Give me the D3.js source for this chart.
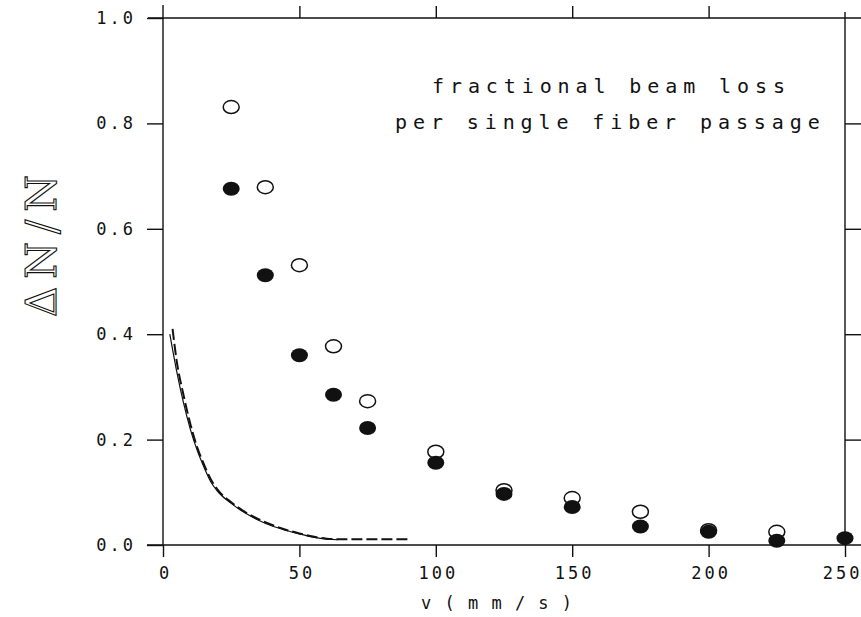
<!DOCTYPE html>
<html>
<head>
<meta charset="utf-8">
<script src="https://cdn.jsdelivr.net/npm/d3@7"></script>
<style>
  body { margin: 0; background: #fff; }
  text { font-family: "DejaVu Sans Mono", monospace; fill: #111; }
</style>
</head>
<body>
<div id="chart"></div>
<script>
// measured points (v in mm/s, fractional loss)
const vPoints = [25, 37.5, 50, 62.5, 75, 100, 125, 150, 175, 200, 225, 250];
const openLoss = [0.831, 0.679, 0.531, 0.377, 0.273, 0.177, 0.104, 0.089, 0.063, 0.028, 0.025, null];
const filledLoss = [0.676, 0.512, 0.360, 0.285, 0.222, 0.156, 0.097, 0.072, 0.035, 0.025, 0.008, 0.013];

// calculated curves
const solidV = [2.5, 5, 7.5, 10, 12.5, 15, 17.5, 20, 25, 30, 35, 40, 45, 50, 55, 60, 64];
const solidLoss = [0.40, 0.33, 0.27, 0.22, 0.18, 0.148, 0.12, 0.102, 0.079, 0.061, 0.047, 0.036, 0.028, 0.021, 0.015, 0.011, 0.010];
const dashV = [3.5, 5, 7.5, 10, 12.5, 15, 17.5, 20, 25, 30, 35, 40, 45, 50, 55, 60, 65, 70, 80, 90];
const dashLoss = [0.41, 0.35, 0.285, 0.23, 0.186, 0.153, 0.125, 0.105, 0.081, 0.063, 0.049, 0.038, 0.029, 0.022, 0.016, 0.012, 0.011, 0.011, 0.011, 0.011];

const xTicks = [0, 50, 100, 150, 200, 250];
const yTicks = [0, 0.2, 0.4, 0.6, 0.8, 1.0];

const W = 861, H = 617;
const svg = d3.select("#chart").append("svg")
  .attr("width", W).attr("height", H);

const x = d3.scaleLinear().domain([0, 250]).range([163, 845]);
const y = d3.scaleLinear().domain([0, 1]).range([545, 18]);

const ink = "#111";

// frame lines (extend past the corners like the plotter drawing)
const frame = svg.append("g").attr("stroke", ink).attr("stroke-width", 1.4);
frame.append("line").attr("x1", x(0) - 16).attr("x2", W).attr("y1", y(0)).attr("y2", y(0));
frame.append("line").attr("x1", x(0) - 15).attr("x2", W).attr("y1", y(1)).attr("y2", y(1));
frame.append("line").attr("x1", x(0)).attr("x2", x(0)).attr("y1", y(1) - 13).attr("y2", y(0));
frame.append("line").attr("x1", x(250)).attr("x2", x(250)).attr("y1", y(1) - 6).attr("y2", y(0));

// axes
const fmtY = d => d3.format(".1f")(d);
const left = svg.append("g")
  .attr("transform", `translate(${x(0)},0)`)
  .call(d3.axisLeft(y).tickValues(yTicks).tickSize(16).tickPadding(14).tickFormat(fmtY));
const bottom = svg.append("g")
  .attr("transform", `translate(0,${y(0)})`)
  .call(d3.axisBottom(x).tickValues(xTicks).tickSize(12).tickPadding(10));
svg.append("g")
  .attr("transform", `translate(0,${y(1)})`)
  .call(d3.axisTop(x).tickValues([50, 100, 150, 200]).tickSize(12).tickFormat(""));
svg.append("g")
  .attr("transform", `translate(${x(250)},0)`)
  .call(d3.axisRight(y).tickValues([0.2, 0.4, 0.6, 0.8]).tickSize(16).tickFormat(""));

svg.selectAll(".domain").remove();
svg.selectAll(".tick line").attr("stroke", ink).attr("stroke-width", 1.4);
svg.selectAll(".tick text")
  .style("font-family", "'DejaVu Sans Mono', monospace")
  .style("font-size", "17px")
  .style("letter-spacing", "3px")
  .style("fill", ink);
left.selectAll(".tick text").attr("dx", "3px");
bottom.selectAll(".tick text").attr("dx", "2px");
// last label sits against the page edge
bottom.selectAll(".tick text").filter(d => d === 250)
  .attr("text-anchor", "end").attr("dx", "17px");

// curves
const line = d3.line().x(d => x(d[0])).y(d => y(d[1])).curve(d3.curveMonotoneX);
svg.append("path")
  .datum(solidV.map((v, i) => [v, solidLoss[i]]))
  .attr("d", line)
  .attr("fill", "none").attr("stroke", ink).attr("stroke-width", 1.2);
svg.append("path")
  .datum(dashV.map((v, i) => [v, dashLoss[i]]))
  .attr("d", line)
  .attr("fill", "none").attr("stroke", ink).attr("stroke-width", 2)
  .attr("stroke-dasharray", "11,4");

// open circles first, filled on top
svg.selectAll(".open")
  .data(vPoints.map((v, i) => [v, openLoss[i]]).filter(d => d[1] !== null))
  .enter().append("ellipse")
  .attr("class", "open")
  .attr("cx", d => x(d[0])).attr("cy", d => y(d[1]))
  .attr("rx", 8).attr("ry", 6.5)
  .attr("fill", "#fff").attr("stroke", ink).attr("stroke-width", 1.5);
svg.selectAll(".filled")
  .data(vPoints.map((v, i) => [v, filledLoss[i]]))
  .enter().append("ellipse")
  .attr("class", "filled")
  .attr("cx", d => x(d[0])).attr("cy", d => y(d[1]))
  .attr("rx", 8.5).attr("ry", 7)
  .attr("fill", ink);

// annotation
const note = svg.append("g")
  .style("font-size", "20px")
  .style("letter-spacing", "5.9px");
note.append("text").attr("x", 432).attr("y", 93).text("fractional beam loss");
note.append("text").attr("x", 395).attr("y", 129).text("per single fiber passage");

// axis titles
svg.append("text")
  .attr("x", 421).attr("y", 609)
  .style("font-size", "17px")
  .style("letter-spacing", "1.5px")
  .text("v  ( m m / s )");

// hollow plotter-style lettering for the y title
svg.append("text")
  .attr("transform", "translate(56,242) rotate(-90)")
  .attr("text-anchor", "middle")
  .style("font-family", "'DejaVu Serif', serif")
  .style("font-size", "42px")
  .style("letter-spacing", "8px")
  .style("fill", "#fff")
  .style("stroke", ink)
  .style("stroke-width", "1.1px")
  .text("ΔN/N");
</script>
</body>
</html>
